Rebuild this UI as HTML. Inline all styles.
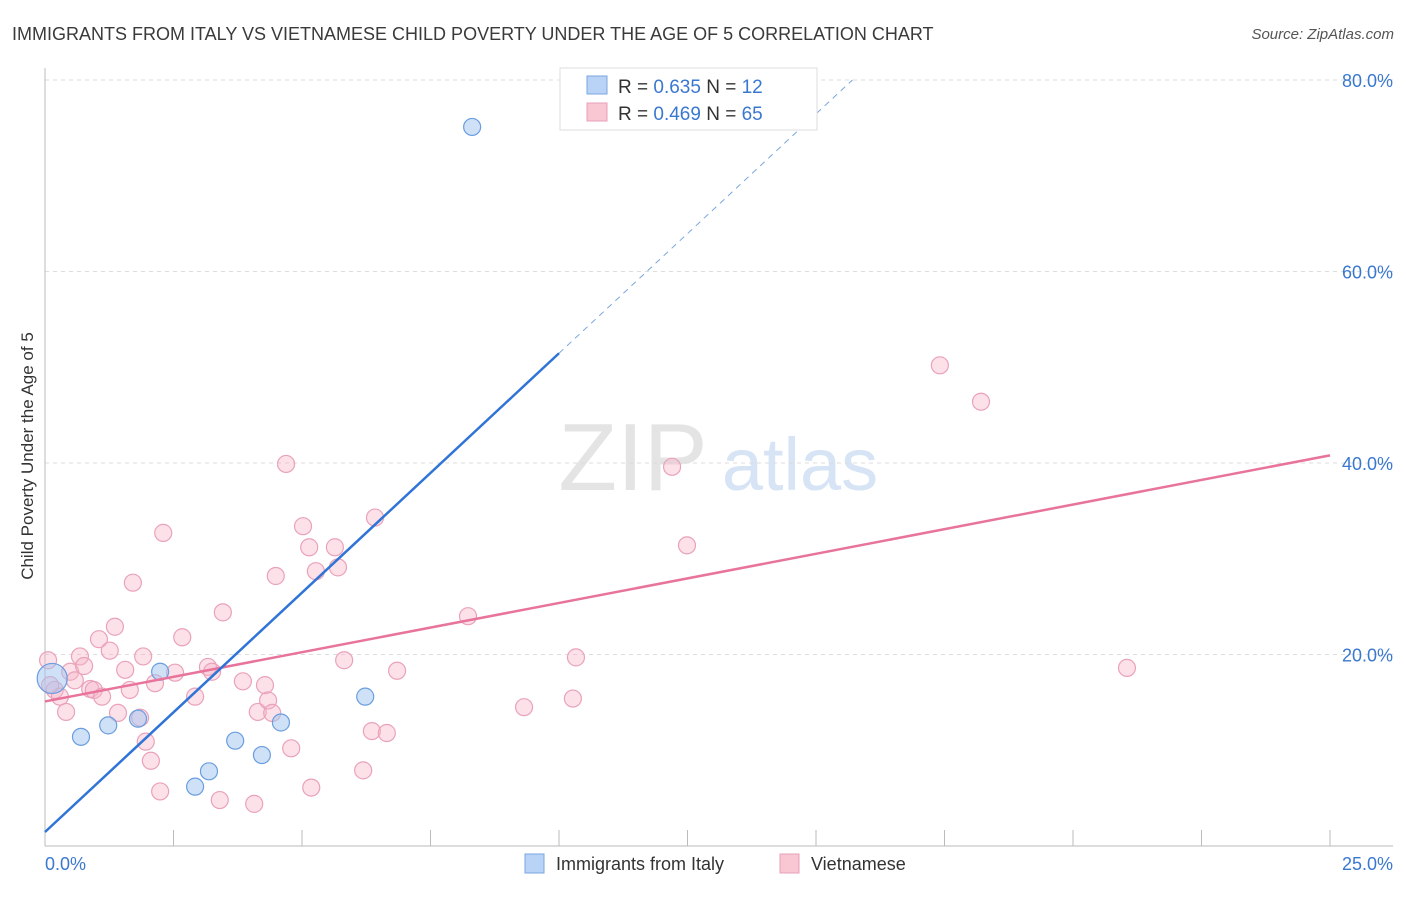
<!DOCTYPE html>
<html><head><meta charset="utf-8"><style>
body{margin:0;background:#fff;font-family:"Liberation Sans",sans-serif}
svg text{font-family:"Liberation Sans",sans-serif}
</style></head><body>
<svg id="chart" width="1406" height="892" xmlns="http://www.w3.org/2000/svg">
<text x="12" y="40" font-size="18" fill="#3a3a3a">IMMIGRANTS FROM ITALY VS VIETNAMESE CHILD POVERTY UNDER THE AGE OF 5 CORRELATION CHART</text>
<text x="1394" y="39" font-size="15" fill="#555" font-style="italic" text-anchor="end">Source: ZipAtlas.com</text>
<text transform="translate(33,456) rotate(-90)" font-size="17" fill="#333" text-anchor="middle">Child Poverty Under the Age of 5</text>
<g><text x="633" y="490" font-size="96" fill="#e4e4e4" font-family="Liberation Serif" text-anchor="middle">ZIP</text><text x="800" y="490" font-size="74" fill="#d6e4f5" text-anchor="middle">atlas</text></g>
<g id="grid"></g><g id="axes"></g><g id="marks"></g>
<g>
<rect x="560" y="68" width="257" height="62" fill="#fff" stroke="#ddd"/>
<rect x="587" y="76" width="20" height="18" fill="#b8d3f5" stroke="#7aa6e0"/>
<rect x="587" y="103" width="20" height="18" fill="#f9c6d4" stroke="#e8a0b8"/>
<text x="618" y="93" font-size="19" fill="#333">R = <tspan fill="#3a78d0">0.635</tspan>   N = <tspan fill="#3a78d0">12</tspan></text>
<text x="618" y="120" font-size="19" fill="#333">R = <tspan fill="#3a78d0">0.469</tspan>   N = <tspan fill="#3a78d0">65</tspan></text>
</g>
<g>
<rect x="525" y="854" width="19" height="19" fill="#b8d3f5" stroke="#7aa6e0"/>
<text x="556" y="870" font-size="18" fill="#333">Immigrants from Italy</text>
<rect x="780" y="854" width="19" height="19" fill="#f9c6d4" stroke="#e8a0b8"/>
<text x="811" y="870" font-size="18" fill="#333">Vietnamese</text>
</g>
</svg>
<script>
const yTicks=[20,40,60,80];
const yTickLabels=["20.0%","40.0%","60.0%","80.0%"];
const italyX=[8.31,0.14,0.70,1.23,1.81,2.24,2.92,3.19,3.70,4.22,4.59,6.23];
const italyY=[75.1,17.5,11.4,12.6,13.3,18.2,6.2,7.8,11.0,9.5,12.9,15.6];
const vietX=[0.06,0.19,0.29,0.41,0.49,0.58,0.68,0.76,0.88,0.95,1.05,1.11,1.26,1.36,1.42,1.56,1.65,1.71,1.85,1.91,1.96,2.06,2.14,2.24,2.30,2.53,2.67,2.92,3.17,3.25,3.40,3.46,3.85,4.07,4.14,4.28,4.34,4.42,4.49,4.69,4.79,5.02,5.14,5.18,5.27,5.64,5.70,5.82,6.19,6.36,6.42,6.65,6.85,8.23,9.32,10.27,10.33,12.2,12.49,17.41,18.21,21.05,0.1];
const vietY=[19.4,16.3,15.6,14.0,18.2,17.3,19.8,18.8,16.4,16.3,21.6,15.6,20.4,22.9,13.9,18.4,16.3,27.5,13.4,19.8,10.9,8.9,17.0,5.7,32.7,18.1,21.8,15.6,18.7,18.2,4.8,24.4,17.2,4.4,14.0,16.8,15.2,13.9,28.2,39.9,10.2,33.4,31.2,6.1,28.7,31.2,29.1,19.4,7.9,12.0,34.3,11.8,18.3,24.0,14.5,15.4,19.7,39.6,31.4,50.2,46.4,18.6,16.8];
const italyLine=[1.46,5.0]; // intercept, slope
const vietLine=[15.1,1.028];
const NS="http://www.w3.org/2000/svg";
const sx=v=>45+v*51.4, sy=v=>846-v*9.575;
function mk(t,a,p){const e=document.createElementNS(NS,t);for(const k in a)e.setAttribute(k,a[k]);document.getElementById(p).appendChild(e);return e;}
yTicks.forEach((t,i)=>{
 const g=mk('line',{x1:45,x2:1393,y1:sy(t),y2:sy(t),stroke:'#ddd','stroke-dasharray':'4,4'},'grid');
 
 
 const l=mk('text',{x:1393,y:sy(t)+7,'font-size':18,fill:'#3a78d0','text-anchor':'end'},'axes');
 l.textContent=yTickLabels[i];
 
 
});
mk('line',{x1:45,x2:45,y1:68,y2:846,stroke:'#bbb'},'axes');
mk('line',{x1:45,x2:1393,y1:846,y2:846,stroke:'#bbb'},'axes');
for(let i=1;i<=10;i++){const tk=mk('line',{x1:sx(i*2.5),x2:sx(i*2.5),y1:830,y2:846,stroke:'#bbb'},'axes');
 
 }
const x0=mk('text',{x:45,y:870,'font-size':18,fill:'#3a78d0'},'axes');x0.textContent='0.0%';


const x1=mk('text',{x:1393,y:870,'font-size':18,fill:'#3a78d0','text-anchor':'end'},'axes');x1.textContent='25.0%';


vietX.forEach((x,i)=>{const c=mk('circle',{cx:sx(x),cy:sy(vietY[i]),r:8.5,fill:'rgba(248,180,200,0.4)',stroke:'#eaa2ba','stroke-width':1.2},'marks');
 
 });
italyX.forEach((x,i)=>{const c=mk('circle',{cx:sx(x),cy:sy(italyY[i]),r:i==1?15:8.5,fill:'rgba(160,196,240,0.5)',stroke:'#6a9ee0','stroke-width':1.2},'marks');
 
 });
const pl=mk('line',{x1:sx(0),y1:sy(vietLine[0]),x2:sx(25),y2:sy(vietLine[0]+vietLine[1]*25),stroke:'#e8739b','stroke-width':2.5},'marks');


const bl=mk('line',{x1:sx(0),y1:sy(italyLine[0]),x2:sx(10),y2:sy(italyLine[0]+italyLine[1]*10),stroke:'#2f74d6','stroke-width':2.5},'marks');


const xe=(80-italyLine[0])/italyLine[1];
const bd=mk('line',{x1:sx(10),y1:sy(italyLine[0]+italyLine[1]*10),x2:sx(xe),y2:sy(80),stroke:'#7aa6e0','stroke-width':1,'stroke-dasharray':'6,5'},'marks');


</script>
</body></html>
